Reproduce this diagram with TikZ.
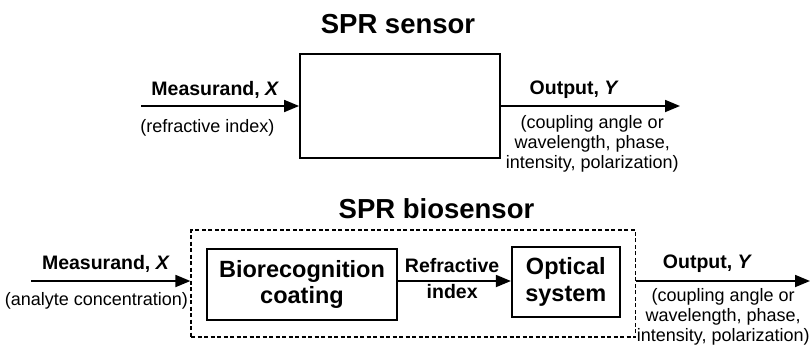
\documentclass[tikz,border=0pt]{standalone}
\usepackage{fontspec}
\setmainfont{Liberation Sans}
\usetikzlibrary{
  arrows.meta,
  calc,
  fit,
  positioning
}
\tikzset{
  signal/.style={
    -{Triangle[length=15pt,width=12pt]},
    line width=1.8pt
  },
  block/.style={
    draw,
    line width=1.8pt,
    align=center,
    inner sep=0pt,
    font=\fontsize{23.5}{26.5}\selectfont\bfseries
  },
  boundary/.style={
    draw,
    line width=1.4pt,
    dash pattern=on 4pt off 2.5pt
  },
  heading/.style={
    anchor=base,
    inner sep=0pt,
    font=\fontsize{27.5}{30}\selectfont\bfseries
  },
  quantity/.style={
    anchor=base,
    inner sep=0pt,
    font=\fontsize{19.5}{22}\selectfont\bfseries
  },
  remark/.style={
    inner sep=0pt,
    align=center,
    font=\fontsize{18}{20}\selectfont
  }
}

\begin{document}
\begin{tikzpicture}[x=1pt, y=1pt]
  \useasboundingbox (0,0) rectangle (810,-346);

  % Sensor on its own.
  \node[heading] (sensortitle) at (398,-33) {SPR sensor};
  \node[block, minimum width=200pt, minimum height=104pt] (sensor)
    at (400,-106) {};
  \coordinate (sensorin) at (141,-106);
  \coordinate (sensorout) at (680,-106);
  \draw[signal] (sensorin) --
    node[quantity, pos=.47, yshift=11pt] (sensormeas) {Measurand, \textit{X}}
    node[remark, anchor=base, pos=.42, yshift=-26pt] (sensorri) {(refractive index)}
    (sensor.west);
  \draw[signal] (sensor.east) --
    node[quantity, pos=.41, yshift=11.5pt] (sensorouty) {Output, \textit{Y}}
    node[remark, anchor=north, pos=.51, yshift=-9pt] (sensorlist)
      {(coupling angle or\\wavelength, phase,\\intensity, polarization)}
    (sensorout);

  % Biosensor: coating plus optics.
  \node[heading] (biotitle) at (436.5,-218) {SPR biosensor};
  \node[block, minimum width=190pt, minimum height=71pt] (coating)
    at (302,-284.5) {Biorecognition\\coating};
  \node[block, minimum width=108pt, minimum height=70pt,
    right=113pt of coating, yshift=2.5pt] (optics) {Optical\\system};
  \node[boundary, fit=(coating)(optics), inner xsep=15pt,
    inner ysep=16pt] (biosensor) {};
  \coordinate (axis) at (0,-281);
  \coordinate (bioin) at (31,-281);
  \coordinate (bioout) at (810,-281);
  \draw[signal] (bioin) --
    node[quantity, pos=.47, yshift=12pt] (biomeas) {Measurand, \textit{X}}
    node[remark, anchor=base, pos=.41, yshift=-24pt] (bioac) {(analyte concentration)}
    (bioin -| biosensor.west);
  \draw[signal] (coating.east |- axis) --
    node[quantity, pos=.48, yshift=9pt] (ritop) {Refractive}
    node[quantity, pos=.48, yshift=-17.5pt] (ribottom) {index}
    (optics.west |- axis);
  \draw[signal] (biosensor.east |- axis) --
    node[quantity, pos=.41, yshift=13pt] (biouty) {Output, \textit{Y}}
    node[remark, anchor=north, pos=.50, yshift=-7pt] (biolist)
      {(coupling angle or\\wavelength, phase,\\intensity, polarization)}
    (bioout);
\end{tikzpicture}
\end{document}
